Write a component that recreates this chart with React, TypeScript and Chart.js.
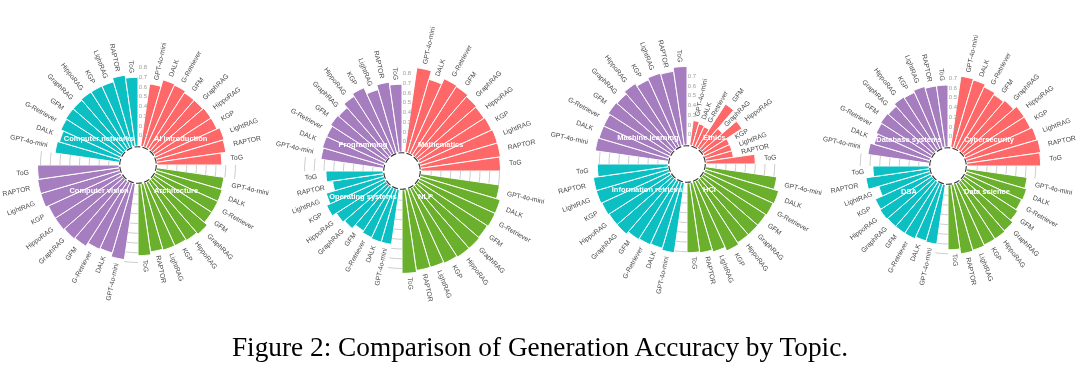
import React, { useEffect, useRef } from 'react';
import { Chart, registerables } from 'chart.js';

Chart.register(...registerables);

// Methods, clockwise inside every topic sector
const methods = ['GPT-4o-mini', 'DALK', 'G-Retriever', 'GFM', 'GraphRAG', 'HippoRAG', 'KGP', 'LightRAG', 'RAPTOR', 'ToG'];

// Panel 1
const aiIntroduction = [0.64, 0.71, 0.70, 0.68, 0.68, 0.69, 0.69, 0.72, 0.71, 0.66];
const architecture = [0.69, 0.70, 0.70, 0.70, 0.74, 0.72, 0.71, 0.71, 0.70, 0.73];
const computerVision = [0.78, 0.74, 0.75, 0.79, 0.80, 0.81, 0.81, 0.84, 0.84, 0.83];
const computerNetworks = [0.66, 0.64, 0.67, 0.68, 0.68, 0.69, 0.69, 0.69, 0.73, 0.70];

// Panel 2
const mathematics = [0.87, 0.78, 0.84, 0.83, 0.81, 0.80, 0.81, 0.82, 0.82, 0.81];
const nlp = [0.81, 0.85, 0.85, 0.84, 0.85, 0.85, 0.84, 0.83, 0.83, 0.85];
const operatingSystems = [0.56, 0.56, 0.55, 0.53, 0.58, 0.60, 0.65, 0.61, 0.52, 0.58];
const programming = [0.64, 0.65, 0.65, 0.67, 0.66, 0.71, 0.74, 0.67, 0.72, 0.69];

// Panel 3
const ethics = [0.25, 0.23, 0.22, 0.53, 0.28, 0.47, 0.28, 0.28, 0.28, 0.50];
const hci = [0.73, 0.78, 0.77, 0.76, 0.76, 0.76, 0.78, 0.74, 0.72, 0.71];
const informationRetrieval = [0.72, 0.70, 0.71, 0.72, 0.75, 0.75, 0.76, 0.77, 0.77, 0.72];
const machineLearning = [0.75, 0.74, 0.74, 0.76, 0.75, 0.78, 0.75, 0.77, 0.76, 0.80];

// Panel 4
const cybersecurity = [0.73, 0.72, 0.69, 0.67, 0.69, 0.73, 0.73, 0.75, 0.76, 0.75];
const dataScience = [0.62, 0.64, 0.63, 0.65, 0.68, 0.69, 0.69, 0.70, 0.71, 0.66];
const dsa = [0.61, 0.60, 0.62, 0.62, 0.62, 0.63, 0.62, 0.54, 0.65, 0.57];
const databaseSystems = [0.63, 0.59, 0.61, 0.62, 0.61, 0.64, 0.63, 0.65, 0.63, 0.63];

// Tick labels shown at 12 o'clock
const ticks08 = [0.1, 0.2, 0.3, 0.4, 0.5, 0.6, 0.7, 0.8];
const ticks07 = [0.1, 0.2, 0.3, 0.4, 0.5, 0.6, 0.7];

const RED = '#FE6868';
const GREEN = '#6BB02C';
const CYAN = '#0CBFC3';
const PURPLE = '#A67DBF';

// sectors clockwise from 12 o'clock: top-right, bottom-right, bottom-left, top-left
const panels = [
  { topics: ['AI introduction', 'Architecture', 'Computer vision', 'Computer networks'], series: [aiIntroduction, architecture, computerVision, computerNetworks], colors: [RED, GREEN, PURPLE, CYAN], ticks: ticks08 },
  { topics: ['Mathematics', 'NLP', 'Operating systems', 'Programming'], series: [mathematics, nlp, operatingSystems, programming], colors: [RED, GREEN, CYAN, PURPLE], ticks: ticks08 },
  { topics: ['Ethics', 'HCI', 'Information retrieval', 'Machine learning'], series: [ethics, hci, informationRetrieval, machineLearning], colors: [RED, GREEN, CYAN, PURPLE], ticks: ticks07 },
  { topics: ['Cybersecurity', 'Data science', 'DSA', 'Database systems'], series: [cybersecurity, dataScience, dsa, databaseSystems], colors: [RED, GREEN, CYAN, PURPLE], ticks: ticks07 },
];

// layout
const CENTERS = [[138, 165], [402, 171], [687, 164], [948, 166]];
const CW = 300;
const CH = 330;
const PAD_X = 15;
const PAD_Y = 30;
const R_MIN = -0.2;
const SLOPE = 97.5; // px per unit
const R_AREA = 135;
const R_MAX = R_MIN + R_AREA / SLOPE;

function PolarPanel({ idx }: { idx: number }) {
  const ref = useRef<HTMLCanvasElement | null>(null);
  useEffect(() => {
    const p = panels[idx];
    const labels: string[] = [];
    const data: (number | null)[] = [];
    const bg: string[] = [];
    p.series.forEach((s, q) => {
      labels.push('');
      data.push(null);
      bg.push('rgba(0,0,0,0)');
      s.forEach((v, j) => {
        labels.push(methods[j]);
        data.push(v);
        bg.push(p.colors[q]);
      });
    });

    const deco = {
      id: 'deco' + idx,
      afterDatasetsDraw(chart: any) {
        const ctx = chart.ctx as CanvasRenderingContext2D;
        const scale = chart.scales.r;
        const cx = scale.xCenter;
        const cy = scale.yCenter;
        const meta = chart.getDatasetMeta(0);
        ctx.save();
        // grid arcs inside the gaps between sectors
        ctx.strokeStyle = '#cdcdcd';
        ctx.lineWidth = 1;
        meta.data.forEach((arc: any, i: number) => {
          if (data[i] !== null || i === 0) return;
          p.ticks.forEach((t) => {
            const r = scale.getDistanceFromCenterForValue(t);
            ctx.beginPath();
            ctx.arc(cx, cy, r, arc.startAngle, arc.endAngle);
            ctx.stroke();
          });
        });
        // inner hole
        const r0 = scale.getDistanceFromCenterForValue(0);
        ctx.beginPath();
        ctx.arc(cx, cy, r0, 0, Math.PI * 2);
        ctx.fillStyle = '#ffffff';
        ctx.fill();
        ctx.beginPath();
        ctx.setLineDash([6, 2.2]);
        ctx.arc(cx, cy, r0 - 1.2, 0, Math.PI * 2);
        ctx.strokeStyle = '#333333';
        ctx.lineWidth = 1.1;
        ctx.stroke();
        ctx.setLineDash([]);
        // tick labels
        ctx.font = '6px "Liberation Sans", Arial, sans-serif';
        ctx.fillStyle = '#a0a0a0';
        ctx.textAlign = 'center';
        ctx.textBaseline = 'middle';
        p.ticks.forEach((t) => {
          const r = scale.getDistanceFromCenterForValue(t);
          ctx.fillText(t.toFixed(1), cx + 5, cy - r);
        });
        // method labels
        ctx.font = '6.8px "Liberation Sans", Arial, sans-serif';
        ctx.fillStyle = '#4a4a4a';
        meta.data.forEach((arc: any, i: number) => {
          const v = data[i];
          if (v === null) return;
          const mid = (arc.startAngle + arc.endAngle) / 2;
          const r = scale.getDistanceFromCenterForValue(v) + 4 + 5 * Math.abs(Math.cos(mid));
          const x = cx + r * Math.cos(mid);
          const y = cy + r * Math.sin(mid);
          ctx.save();
          ctx.translate(x, y);
          if (Math.cos(mid) >= 0) {
            ctx.rotate(mid);
            ctx.textAlign = 'left';
          } else {
            ctx.rotate(mid + Math.PI);
            ctx.textAlign = 'right';
          }
          ctx.textBaseline = 'middle';
          ctx.fillText(labels[i], 0, 0);
          ctx.restore();
        });
        // topic labels
        ctx.font = 'bold 7.5px "Liberation Sans", Arial, sans-serif';
        ctx.fillStyle = '#ffffff';
        ctx.textBaseline = 'middle';
        const spots = [
          { x: cx + 16, y: cy - 26, a: 'left' },
          { x: cx + 16, y: cy + 26, a: 'left' },
          { x: cx - 39, y: cy + 26, a: 'center' },
          { x: cx - 39, y: cy - 26, a: 'center' },
        ];
        p.topics.forEach((t, q) => {
          ctx.textAlign = spots[q].a as CanvasTextAlign;
          ctx.fillText(t, spots[q].x, spots[q].y);
        });
        ctx.restore();
      },
    };

    const chart = new Chart(ref.current as HTMLCanvasElement, {
      type: 'polarArea',
      data: {
        labels,
        datasets: [{ data: data as any, backgroundColor: bg, borderColor: '#ffffff', borderWidth: 1 }],
      },
      options: {
        responsive: false,
        animation: false,
        devicePixelRatio: 1,
        layout: { padding: { left: PAD_X, right: PAD_X, top: PAD_Y, bottom: PAD_Y } },
        plugins: { legend: { display: false }, tooltip: { enabled: false } },
        events: [],
        scales: {
          r: {
            type: 'radialLinear',
            min: R_MIN,
            max: R_MAX,
            startAngle: 0,
            ticks: { display: false },
            grid: { display: false },
            angleLines: { display: false },
            pointLabels: { display: false },
          },
        },
      } as any,
      plugins: [deco],
    });
    return () => chart.destroy();
  }, [idx]);

  const [cx, cy] = CENTERS[idx];
  return (
    <canvas
      ref={ref}
      width={CW}
      height={CH}
      style={{ position: 'absolute', left: cx - (PAD_X + R_AREA), top: cy - (PAD_Y + R_AREA), width: CW, height: CH }}
    />
  );
}

export default function App() {
  return (
    <div style={{ position: 'absolute', left: 0, top: 0, width: 1080, height: 369, overflow: 'hidden', background: '#ffffff' }}>
      {panels.map((_, i) => (
        <PolarPanel key={i} idx={i} />
      ))}
      <div
        style={{
          position: 'absolute',
          left: 0,
          top: 334,
          width: 1080,
          textAlign: 'center',
          fontFamily: '"Liberation Serif", "Times New Roman", serif',
          fontSize: 27.3,
          lineHeight: '27px',
          color: '#000',
          whiteSpace: 'nowrap',
        }}
      >
        Figure 2: Comparison of Generation Accuracy by Topic.
      </div>
    </div>
  );
}
